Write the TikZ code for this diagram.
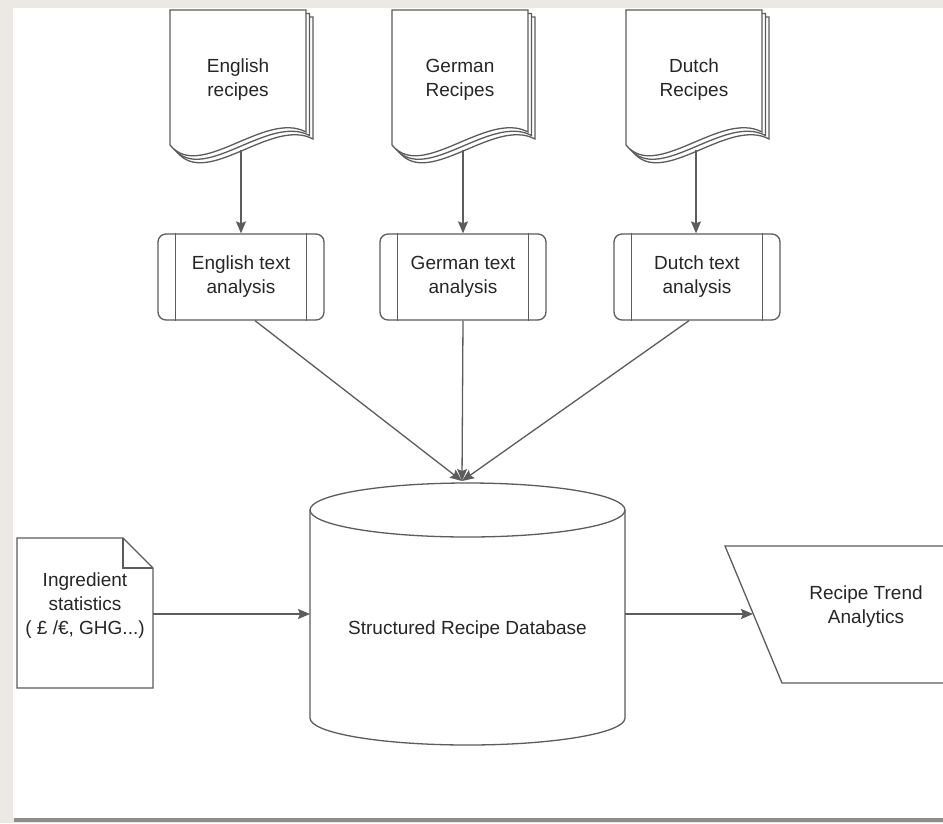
\documentclass[tikz,border=0pt]{standalone}
\usepackage{fontspec}
\setmainfont{Liberation Sans}
\usetikzlibrary{arrows.meta}
\definecolor{frame}{HTML}{ECE9E5}
\definecolor{shadowc}{HTML}{8F8E8C}
\definecolor{linec}{HTML}{5C5C5C}
\definecolor{txtc}{HTML}{262626}
\tikzset{
  shapeline/.style={draw=linec, line width=1.3pt, fill=white},
  lbl/.style={text=txtc, align=center, font=\fontsize{19}{24}\selectfont, inner sep=0pt},
  procbox/.style={shapeline, rounded corners=8pt, minimum width=166pt, minimum height=86pt, text=txtc, align=center, font=\fontsize{19}{24}\selectfont},
  conn/.style={draw=linec, line width=1.3pt, -{Stealth[length=12pt,width=10pt,inset=2pt]}},
}
\newcommand{\docpage}[2]{%
  \draw[shapeline, shift={(#1,#2)}] (0,0) -- (136,0) -- (136,122)
     .. controls (95,100) and (30,172) .. (0,135) -- cycle;}
\newcommand{\multidocshape}[2]{%
  \docpage{#1+7}{#2+7}\docpage{#1+3.5}{#2+3.5}\docpage{#1}{#2}}
\begin{document}
\begin{tikzpicture}[x=1pt,y=-1pt]
\useasboundingbox (0,0) rectangle (943,823);
\fill[frame] (0,0) rectangle (943,823);
\fill[shadowc] (14,817) rectangle (943,822);
\fill[white] (13,8) rectangle (943,818);

% document stacks
\multidocshape{170}{10}
\multidocshape{392}{10}
\multidocshape{626}{10}
\node[lbl] (engdoc) at (238,80) {English\\recipes};
\node[lbl] (gerdoc) at (460,80) {German\\Recipes};
\node[lbl] (dutdoc) at (694,80) {Dutch\\Recipes};
\coordinate (engdocb) at (241,150);
\coordinate (gerdocb) at (463,150);
\coordinate (dutdocb) at (696,150);

% process boxes
\node[procbox] (engproc) at (241,277) {English text\\analysis};
\node[procbox] (gerproc) at (463,277) {German text\\analysis};
\node[procbox] (dutproc) at (697,277) {Dutch text\\analysis};
\foreach \b in {engproc,gerproc,dutproc}{
  \draw[draw=linec, line width=1.3pt] ([xshift=18pt]\b.north west) -- ([xshift=18pt]\b.south west);
  \draw[draw=linec, line width=1.3pt] ([xshift=-18pt]\b.north east) -- ([xshift=-18pt]\b.south east);
}
\draw[conn] (engdocb) -- (engdocb |- engproc.north);
\draw[conn] (gerdocb) -- (gerdocb |- gerproc.north);
\draw[conn] (dutdocb) -- (dutdocb |- dutproc.north);

% database cylinder
\draw[shapeline] (310,510) -- (310,718) arc[start angle=180, end angle=0, x radius=157.5, y radius=27] -- (625,510);
\draw[shapeline] (467.5,510) ellipse[x radius=157.5, y radius=27];
\node[lbl] (db) at (467.5,630) {Structured Recipe Database};
\coordinate (dbtop) at (462,481);
\coordinate (dbleft) at (310,614);
\coordinate (dbright) at (625,614);

\draw[conn] ([xshift=14pt]engproc.south) -- (dbtop);
\draw[conn] (gerproc.south) -- (dbtop);
\draw[conn] ([xshift=-8pt]dutproc.south) -- (dbtop);

% ingredient statistics note
\draw[shapeline] (17,538) -- (123,538) -- (153,568) -- (153,688) -- (17,688) -- cycle;
\draw[draw=linec, line width=1.1pt] (123,538) -- (123,568) -- (153,568);
\node[lbl] (ing) at (85,606) {Ingredient\\statistics\\( £ /€, GHG...)};
\coordinate (ingright) at (153,614);
\draw[conn] (ingright) -- (dbleft);

% recipe trend analytics parallelogram
\draw[shapeline] (950,546) -- (725,546) -- (782,683) -- (950,683);
\node[lbl] (trend) at (866,607) {Recipe Trend\\Analytics};
\coordinate (trendleft) at (753,614);
\draw[conn] (dbright) -- (trendleft);
\end{tikzpicture}
\end{document}
